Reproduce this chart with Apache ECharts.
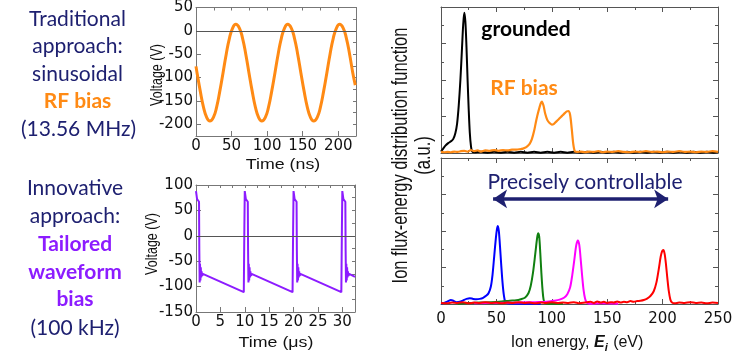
<!DOCTYPE html>
<html><head><meta charset="utf-8">
<script src="https://cdn.jsdelivr.net/npm/echarts@6/dist/echarts.min.js"></script>
<style>html,body{margin:0;padding:0;background:#fff}#c{width:738px;height:355px}</style>
</head><body><div id="c"></div>
<script>
// ---------- DATA ----------
// tick label values
const rfTicksX = [0, 50, 100, 150, 200];
const rfTicksY = [-200, -150, -100, -50, 0, 50];
const twTicksX = [0, 5, 10, 15, 20, 25, 30];
const twTicksY = [-150, -100, -50, 0, 50, 100];
const ieTicksX = [0, 50, 100, 150, 200, 250];

// sinusoidal RF bias waveform: [time (ns), voltage (V)]
const rfWave = [[0,-76],[1.5,-90],[6,-129],[10.5,-163],[15,-185],[19.5,-193],[24.5,-185],[29,-163],[33.5,-129],[38,-90],[42.5,-50],[47,-16],[51.5,6],[56,14],[61,6],[65.5,-16],[70,-50],[74.5,-90],[79,-129],[83.5,-163],[88,-185],[92.5,-193],[97.5,-185],[102,-163],[106.5,-129],[111,-90],[115.5,-50],[120,-16],[124.5,6],[129,14],[134,6],[138.5,-16],[143,-50],[147.5,-90],[152,-129],[156.5,-163],[161,-185],[165.5,-193],[170.5,-185],[175,-163],[179.5,-129],[184,-90],[188.5,-50],[193,-16],[197.5,6],[202,14],[207,6],[211.5,-16],[216,-50],[220.5,-90],[224,-116]];

// tailored waveform bias: [time (us), voltage (V)]
const twWave = [
[0,88],[0.12,86],[0.22,72],[0.45,70],[0.62,67],[0.68,-30],[0.75,-92],[0.82,-55],[0.9,-88],[0.98,-62],[1.06,-82],[1.15,-70],[1.25,-79],[1.4,-75],[1.55,-77],
[9.8,-111],[9.92,20],[10.0,88],[10.12,86],[10.22,72],[10.45,70],[10.62,67],[10.68,-30],[10.75,-92],[10.82,-55],[10.9,-88],[10.98,-62],[11.06,-82],[11.15,-70],[11.25,-79],[11.4,-75],[11.55,-77],
[19.8,-111],[19.92,20],[20.0,88],[20.12,86],[20.22,72],[20.45,70],[20.62,67],[20.68,-30],[20.75,-92],[20.82,-55],[20.9,-88],[20.98,-62],[21.06,-82],[21.15,-70],[21.25,-79],[21.4,-75],[21.55,-77],
[29.8,-111],[29.92,20],[30.0,88],[30.12,86],[30.22,72],[30.45,70],[30.62,67],[30.68,-30],[30.75,-92],[30.82,-55],[30.9,-88],[30.98,-62],[31.06,-82],[31.15,-70],[31.25,-79],[31.4,-75],[31.55,-77],
[32.6,-81]];

// IEDF, grounded: [energy (eV), flux (a.u.)]
const iedfGrounded = [[0,0.04],[2,0.12],[4,0.2],[6.5,0.27],[9,0.32],[11,0.38],[13,0.55],[14.5,0.8],[16,1.3],[17.5,2.0],[19,2.9],[20,3.5],[21,3.84],[22,3.6],[23,2.9],[24,2.0],[25,1.2],[26,0.55],[27,0.2],[28,0.05],[30,0.02],[36,0.035],[42,0.01],[48,0.035],[54,0.01],[60,0.035],[66,0.01],[72,0.035],[78,0.01],[84,0.035],[90,0.01],[96,0.035],[102,0.01],[108,0.035],[114,0.01],[120,0.035],[126,0.01],[132,0.035],[138,0.01],[144,0.035],[150,0.01],[156,0.035],[162,0.01],[168,0.035],[174,0.01],[180,0.035],[186,0.01],[192,0.035],[198,0.01],[204,0.035],[210,0.01],[216,0.035],[222,0.01],[228,0.035],[234,0.01],[240,0.035],[246,0.01],[250,0.03]];

// IEDF, sinusoidal RF bias
const iedfRF = [[0,0.03],[3,0.02],[6,0.03],[9,0.02],[12,0.04],[15,0.03],[18,0.05],[21,0.06],[24,0.04],[27,0.08],[30,0.05],[33,0.07],[36,0.04],[40,0.07],[44,0.06],[48,0.08],[52,0.06],[56,0.08],[60,0.07],[64,0.09],[68,0.09],[72,0.11],[74,0.12],[77,0.16],[80,0.25],[82,0.38],[84,0.6],[86,0.9],[88,1.15],[90,1.36],[91,1.41],[92.5,1.3],[94,1.08],[96,0.9],[98,0.82],[100,0.78],[102,0.8],[104,0.86],[106,0.92],[108,0.98],[110,1.04],[112,1.1],[113.5,1.14],[115,1.15],[116.5,1.05],[118,0.66],[119.5,0.22],[121,0.04],[123,0.03],[126,0.04],[130,0.02],[134,0.04],[138,0.03],[142,0.05],[146,0.02],[150,0.04],[155,0.03],[160,0.05],[165,0.03],[170,0.02],[175,0.04],[180,0.03],[185,0.05],[190,0.03],[195,0.04],[200,0.02],[205,0.04],[210,0.03],[215,0.05],[220,0.03],[225,0.04],[230,0.02],[235,0.04],[240,0.03],[245,0.05],[250,0.03]];

// IEDF, tailored waveform, four set-points
const iedfTW50 = [[0,0.01],[3,0.03],[6,0.07],[9,0.11],[11,0.09],[14,0.05],[17,0.06],[20,0.1],[23,0.14],[26,0.16],[29,0.14],[32,0.13],[35,0.14],[38,0.17],[41,0.23],[43,0.3],[45,0.48],[46.5,0.8],[48,1.3],[49.5,1.8],[50.5,2.05],[51.3,2.14],[52.2,2.0],[53.2,1.6],[54.3,1.1],[55.5,0.6],[56.7,0.25],[58,0.06],[60,0.02],[70,0.01],[90,0.01]];
const iedfTW88 = [[15,0.01],[25,0.03],[35,0.04],[45,0.05],[55,0.07],[62,0.09],[68,0.1],[72,0.13],[76,0.18],[79,0.3],[81,0.5],[83,0.85],[85,1.35],[86.5,1.75],[87.6,1.94],[88.6,1.85],[89.6,1.4],[90.6,0.85],[91.6,0.4],[92.6,0.12],[94,0.03],[97,0.01],[110,0.01]];
const iedfTW124 = [[30,0.02],[50,0.03],[70,0.04],[85,0.05],[95,0.06],[102,0.09],[107,0.12],[111,0.17],[114,0.27],[116.5,0.45],[118.5,0.8],[120.5,1.25],[122,1.6],[123.5,1.74],[124.8,1.62],[126,1.25],[127.3,0.8],[128.6,0.4],[130,0.15],[131.5,0.04],[134,0.01],[145,0.02],[160,0.01]];
const iedfTW200 = [[0,0.03],[5,0.02],[10,0.04],[15,0.03],[20,0.05],[25,0.02],[30,0.04],[35,0.03],[40,0.05],[45,0.03],[50,0.04],[55,0.02],[60,0.04],[65,0.03],[70,0.05],[75,0.03],[80,0.04],[85,0.02],[90,0.04],[95,0.03],[100,0.05],[105,0.03],[110,0.04],[115,0.03],[120,0.05],[125,0.02],[130,0.04],[135,0.06],[138,0.03],[141,0.07],[144,0.04],[147,0.06],[150,0.03],[153,0.05],[156,0.04],[159,0.07],[162,0.04],[165,0.06],[168,0.05],[171,0.08],[174,0.06],[177,0.08],[180,0.09],[183,0.11],[186,0.15],[189,0.22],[192,0.35],[194.5,0.6],[196.5,0.95],[198.3,1.3],[199.6,1.45],[200.7,1.48],[201.8,1.38],[203,1.1],[204.3,0.7],[205.6,0.35],[207,0.12],[208.5,0.04],[211,0.02],[215,0.04],[220,0.03],[225,0.05],[230,0.03],[235,0.04],[240,0.02],[245,0.04],[250,0.03]];

// double arrow span (eV) and level (a.u.)
const arrowSpan = [47, 205];
const arrowLevel = 2.88;

// ---------- STYLE ----------
const NAVY = '#1e2070', ORANGE = '#ff8a14', PURPLE = '#8c1cff';
const AX = '"Liberation Sans", Arial, sans-serif';
const TK = '"DejaVu Sans", sans-serif';
const SANS = 'Lato, "Open Sans", sans-serif';

function ax(extra, color) {
  const c = color || '#777';
  return Object.assign({
    type: 'value', splitLine: {show: false},
    axisLine: {show: true, onZero: false, lineStyle: {color: c, width: 1}},
    axisTick: {show: true, inside: true, length: 5, lineStyle: {color: c}},
    axisLabel: {show: false, color: '#111', fontFamily: TK, fontSize: 15, margin: 3}
  }, extra);
}
function withTicks(a, vals, labels) {
  a.axisTick = Object.assign({}, a.axisTick, {customValues: vals});
  a.axisLabel = Object.assign({}, a.axisLabel, {show: labels, customValues: vals});
  return a;
}
function fine(a, interval) {
  a.interval = interval;
  a.axisTick = Object.assign({}, a.axisTick, {length: 3});
  return a;
}
const minor = {show: true, splitNumber: 2, length: 3, lineStyle: {color: '#555'}};

const xAxis = [
  withTicks(ax({gridIndex: 0, min: 0, max: 225, position: 'bottom'}), rfTicksX, true),
  fine(ax({gridIndex: 0, min: 0, max: 225, position: 'top'}), 25),
  withTicks(ax({gridIndex: 1, min: 0, max: 32.6, position: 'bottom'}), twTicksX, true),
  fine(ax({gridIndex: 1, min: 0, max: 32.6, position: 'top'}), 2.5),
  ax({gridIndex: 2, min: 0, max: 250, interval: 50, position: 'bottom', minorTick: minor}, '#555'),
  ax({gridIndex: 2, min: 0, max: 250, interval: 50, position: 'top', minorTick: minor}, '#555'),
  ax({gridIndex: 3, min: 0, max: 250, interval: 50, position: 'bottom', minorTick: minor}, '#555'),
  ax({gridIndex: 3, min: 0, max: 250, interval: 50, position: 'top', minorTick: minor}, '#555')
];
xAxis[6].axisLabel = Object.assign({}, xAxis[6].axisLabel, {show: true, margin: 8, customValues: ieTicksX});

const yAxis = [
  withTicks(ax({gridIndex: 0, min: -225, max: 50, position: 'left'}), rfTicksY, true),
  fine(ax({gridIndex: 0, min: -225, max: 50, position: 'right'}), 25),
  withTicks(ax({gridIndex: 1, min: -150, max: 100, position: 'left'}), twTicksY, true),
  fine(ax({gridIndex: 1, min: -150, max: 100, position: 'right'}), 25),
  ax({gridIndex: 2, min: 0, max: 4, interval: 1, position: 'left', minorTick: minor}, '#555'),
  ax({gridIndex: 2, min: 0, max: 4, interval: 1, position: 'right', minorTick: minor}, '#555'),
  ax({gridIndex: 3, min: 0, max: 4, interval: 1, position: 'left', minorTick: minor}, '#555'),
  ax({gridIndex: 3, min: 0, max: 4, interval: 1, position: 'right', minorTick: minor}, '#555')
];

const zeroLine = {silent: true, symbol: 'none', label: {show: false}, lineStyle: {color: '#555', width: 1, type: 'solid'}, data: [{yAxis: 0}]};
function line(xi, yi, data, color, width, smooth) {
  return {type: 'line', xAxisIndex: xi, yAxisIndex: yi, data: data, smooth: smooth, showSymbol: false,
    lineStyle: {color: color, width: width}, itemStyle: {color: color}};
}

const series = [
  Object.assign(line(0, 0, rfWave, ORANGE, 3, true), {markLine: zeroLine}),
  Object.assign(line(2, 2, twWave, PURPLE, 2, false), {markLine: zeroLine}),
  line(4, 4, iedfGrounded, '#000', 2, 0.3),
  line(4, 4, iedfRF, ORANGE, 2.2, 0.3),
  line(6, 6, iedfTW50, '#0000ff', 2, 0.3),
  line(6, 6, iedfTW88, '#108010', 2, 0.3),
  line(6, 6, iedfTW124, '#ff00ff', 2, 0.3),
  Object.assign(line(6, 6, iedfTW200, '#ff0000', 2, 0.3), {
    markLine: {silent: true, symbol: ['arrow', 'arrow'], symbolSize: [14, 14], label: {show: false},
      lineStyle: {color: NAVY, width: 3.5, type: 'solid'},
      data: [[{coord: [arrowSpan[0], arrowLevel]}, {coord: [arrowSpan[1], arrowLevel]}]]}
  })
];

function txt(x, y, text, font, fill, extra) {
  return Object.assign({type: 'text', x: x, y: y, silent: true,
    style: {text: text, font: font, fill: fill, align: 'center', verticalAlign: 'middle'}}, extra || {});
}
const R20 = '21px ' + SANS, B20 = 'bold 21px ' + SANS;
const VROT = {rotation: Math.PI / 2, scaleY: 1.3};
const HSTR = {scaleX: 1.27};
const graphic = [
  txt(77.5, 19, 'Traditional', R20, NAVY),
  txt(77.5, 46.5, 'approach:', R20, NAVY),
  txt(77.5, 74, 'sinusoidal', R20, NAVY),
  txt(77.5, 101.5, 'RF bias', B20, ORANGE),
  txt(78.5, 129, '(13.56 MHz)', R20, NAVY),
  txt(75, 188.5, 'Innovative', R20, NAVY),
  txt(75, 216.5, 'approach:', R20, NAVY),
  txt(75, 244, 'Tailored', B20, PURPLE),
  txt(75, 272, 'waveform', B20, PURPLE),
  txt(75, 299.5, 'bias', B20, PURPLE),
  txt(75, 328, '(100 kHz)', R20, NAVY),
  txt(157.5, 75, 'Voltage (V)', '12.5px ' + AX, '#111', VROT),
  txt(152.5, 244, 'Voltage (V)', '12.5px ' + AX, '#111', VROT),
  txt(283, 165, 'Time (ns)', '14px ' + AX, '#111', HSTR),
  txt(276, 343, 'Time (\u03bcs)', '14px ' + AX, '#111', HSTR),
  txt(401, 155.5, 'Ion flux-energy distribution function', '16.5px ' + AX, '#111', VROT),
  txt(424, 155.5, '(a.u.)', '16.5px ' + AX, '#111', VROT),
  {type: 'text', x: 577, y: 343, silent: true, style: {
    text: '{a|Ion energy, }{b|E}{c|i}{a| (eV)}', align: 'center', verticalAlign: 'middle',
    rich: {a: {fontFamily: AX, fontSize: 16, fill: '#111'},
           b: {fontFamily: AX, fontSize: 16, fontWeight: 'bold', fontStyle: 'italic', fill: '#111'},
           c: {fontFamily: AX, fontSize: 11, fontWeight: 'bold', fontStyle: 'italic', fill: '#111', padding: [9, 1, 0, 0]}}}},
  txt(526, 29.5, 'grounded', 'bold 21px ' + SANS, '#000'),
  txt(524, 88.5, 'RF bias', 'bold 21px ' + SANS, ORANGE),
  txt(585, 182.5, 'Precisely controllable', '21px ' + SANS, NAVY)
];

const chart = echarts.init(document.getElementById('c'), null, {renderer: 'canvas'});
chart.setOption({
  animation: false,
  backgroundColor: '#fff',
  grid: [
    {left: 196, top: 7, width: 160, height: 129},
    {left: 196, top: 185, width: 159, height: 127},
    {left: 441, top: 7, width: 277, height: 146},
    {left: 441, top: 158, width: 277, height: 146}
  ],
  xAxis: xAxis, yAxis: yAxis, series: series, graphic: graphic
});
</script></body></html>
